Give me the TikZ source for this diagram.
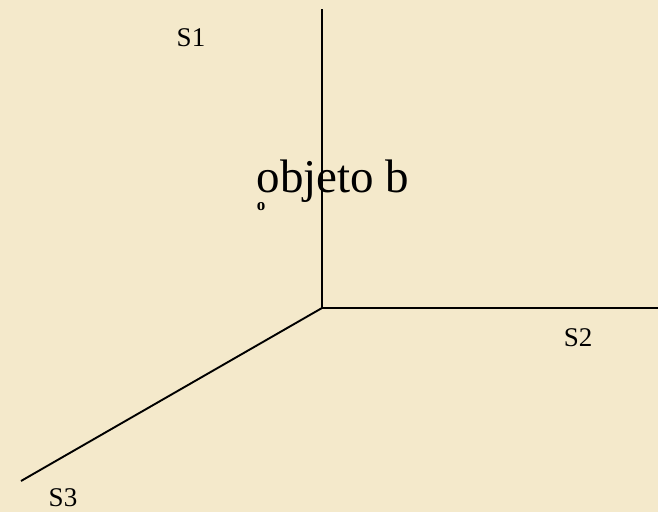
\documentclass[tikz,border=0pt]{standalone}
\usepackage{fontspec}
\setmainfont{Liberation Serif}
\definecolor{parch}{RGB}{244,233,203}
\tikzset{axes/.style={x=1pt,y=-1pt,font=\fontsize{27}{30}\selectfont},
  axis/.style={black,line width=1.9pt},
  lbl/.style={inner sep=0pt}}

\begin{document}
\begin{tikzpicture}[axes]
    \fill[parch] (0,0) rectangle (658,512);
    \useasboundingbox (0,0) rectangle (658,512);
    \coordinate (orig) at (322,308);
    \coordinate (top) at (322,9);
    \coordinate (right) at (658,308);
    \coordinate (diag) at (21,481);
    \draw[axis] (orig) -- (top);
    \draw[axis] (orig) -- (right);
    \draw[axis] (orig) -- (diag);
    \node[lbl] (s1) at (191,38) {S1};
    \node[lbl] (s2) at (578,338) {S2};
    \node[lbl] (s3) at (63,498) {S3};
    \node[lbl,anchor=base,font=\fontsize{47}{50}\selectfont] (obj) at (333,192) {objeto b};
    \node[lbl,font=\fontsize{17}{17}\selectfont\bfseries] (sub) at (261,207) {o};
\end{tikzpicture}
\end{document}
